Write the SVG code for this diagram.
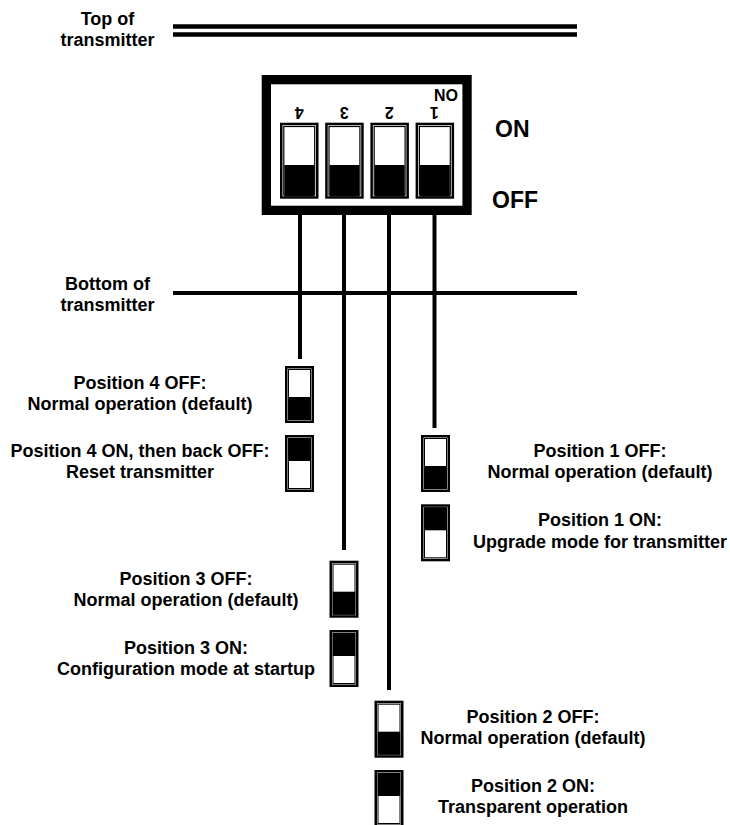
<svg xmlns="http://www.w3.org/2000/svg" xmlns:xlink="http://www.w3.org/1999/xlink" width="730" height="825" viewBox="0 0 730 825">
<style>
text{font-family:"Liberation Sans",Arial,Helvetica,sans-serif;font-weight:bold;fill:#000}
.lbl{font-size:18px;text-anchor:middle}
.big{font-size:23px}
.dig{font-size:16px;text-anchor:middle}
.edge{stroke:#000;fill:none}
.conn line{stroke:#000;stroke-width:4}
</style>
<defs>
<g id="sw-off">
<rect x="1.25" y="1.25" width="26.5" height="54.5" fill="#fff" stroke="#000" stroke-width="2.5"/>
<rect x="3.5" y="3.5" width="22" height="50" fill="none" stroke="#000" stroke-width="1"/>
<rect x="3.3" y="31" width="22.4" height="23" fill="#000"/>
</g>
<g id="sw-on">
<rect x="1.25" y="1.25" width="26.5" height="54.5" fill="#fff" stroke="#000" stroke-width="2.5"/>
<rect x="3.5" y="3.5" width="22" height="50" fill="none" stroke="#000" stroke-width="1"/>
<rect x="3.3" y="3" width="22.4" height="23" fill="#000"/>
</g>
<g id="dip">
<rect x="1.25" y="1.25" width="36" height="73.5" fill="#fff" stroke="#000" stroke-width="2.5"/>
<rect x="3.8" y="3.8" width="30.9" height="68.4" fill="none" stroke="#000" stroke-width="1.2"/>
<rect x="4.3" y="42.3" width="29.9" height="31.4" fill="#000"/>
</g>
</defs>

<g id="top-of-transmitter">
<line class="edge" x1="173" y1="26.5" x2="577" y2="26.5" stroke-width="4.5"/>
<line class="edge" x1="173" y1="34.5" x2="577" y2="34.5" stroke-width="4.5"/>
<text class="lbl" x="107.5" y="25">Top of</text>
<text class="lbl" x="107.5" y="46">transmitter</text>
</g>

<g id="bottom-of-transmitter">
<line class="edge" x1="173" y1="293" x2="577" y2="293" stroke-width="4"/>
<text class="lbl" x="107.5" y="290">Bottom of</text>
<text class="lbl" x="107.5" y="311">transmitter</text>
</g>

<g id="connectors" class="conn">
<line x1="300" y1="210" x2="300" y2="359"/>
<line x1="344" y1="210" x2="344" y2="550"/>
<line x1="389" y1="210" x2="389" y2="690"/>
<line x1="434.5" y1="210" x2="434.5" y2="428"/>
</g>

<g id="dip-switch">
<rect x="266.35" y="79.65" width="200.7" height="130.7" fill="#fff" stroke="#000" stroke-width="9.3"/>
<use xlink:href="#dip" x="280" y="122.7"/>
<use xlink:href="#dip" x="325.2" y="122.7"/>
<use xlink:href="#dip" x="370.4" y="122.7"/>
<use xlink:href="#dip" x="415.6" y="122.7"/>
<text class="dig" transform="translate(299.3,106.7) rotate(180)">4</text>
<text class="dig" transform="translate(344.3,106.7) rotate(180)">3</text>
<text class="dig" transform="translate(389.3,106.7) rotate(180)">2</text>
<text class="dig" transform="translate(434.3,106.7) rotate(180)">1</text>
<text class="dig" transform="translate(446,89.3) rotate(180)">ON</text>
<text class="big" x="495" y="137">ON</text>
<text class="big" x="492" y="208">OFF</text>
</g>

<g id="position-4">
<use xlink:href="#sw-off" x="285" y="366"/>
<use xlink:href="#sw-on" x="285" y="435"/>
<text class="lbl" x="140" y="389">Position 4 OFF:</text>
<text class="lbl" x="140" y="410">Normal operation (default)</text>
<text class="lbl" x="140" y="457">Position 4 ON, then back OFF:</text>
<text class="lbl" x="140" y="478">Reset transmitter</text>
</g>

<g id="position-1">
<use xlink:href="#sw-off" x="421" y="435"/>
<use xlink:href="#sw-on" x="421" y="504.3"/>
<text class="lbl" x="600" y="457">Position 1 OFF:</text>
<text class="lbl" x="600" y="478">Normal operation (default)</text>
<text class="lbl" x="600" y="526">Position 1 ON:</text>
<text class="lbl" x="600" y="548">Upgrade mode for transmitter</text>
</g>

<g id="position-3">
<use xlink:href="#sw-off" x="329.5" y="560.7"/>
<use xlink:href="#sw-on" x="329.5" y="630"/>
<text class="lbl" x="186" y="585">Position 3 OFF:</text>
<text class="lbl" x="186" y="606">Normal operation (default)</text>
<text class="lbl" x="186" y="654">Position 3 ON:</text>
<text class="lbl" x="186" y="675">Configuration mode at startup</text>
</g>

<g id="position-2">
<use xlink:href="#sw-off" x="374.5" y="700.7"/>
<use xlink:href="#sw-on" x="374.5" y="770"/>
<text class="lbl" x="533" y="723">Position 2 OFF:</text>
<text class="lbl" x="533" y="744">Normal operation (default)</text>
<text class="lbl" x="533" y="792">Position 2 ON:</text>
<text class="lbl" x="533" y="813">Transparent operation</text>
</g>
</svg>
